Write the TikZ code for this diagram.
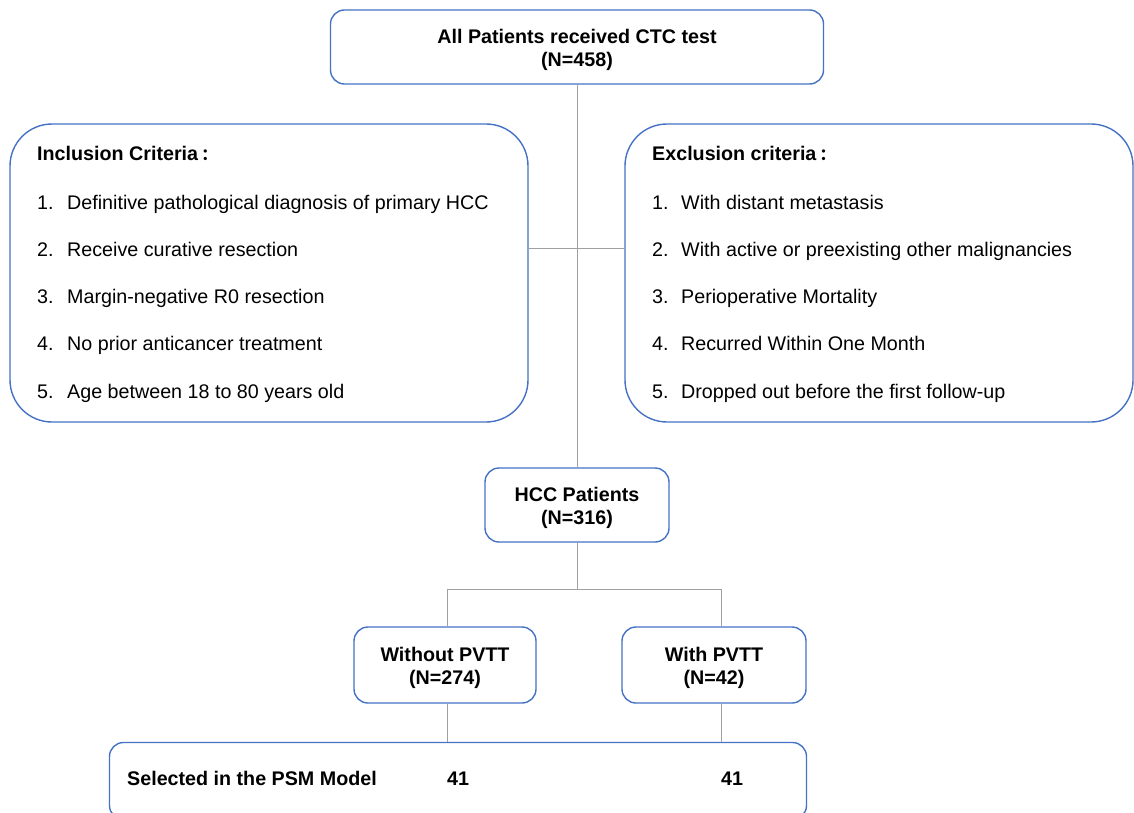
\documentclass[tikz,border=0pt]{standalone}
\usepackage{fontspec}
\setmainfont{Liberation Sans}
\newfontfamily\cjk{Noto Sans CJK SC}
\usetikzlibrary{positioning}
\definecolor{boxblue}{RGB}{68,114,196}
\definecolor{linegray}{RGB}{160,160,160}

\begin{document}
\begin{tikzpicture}[x=1pt,y=-1pt,
    box/.style={draw=boxblue,line width=1.4pt,rounded corners=14pt,inner sep=0pt},
    boxtext/.style={align=center,inner sep=0pt,yshift=-3pt,font=\bfseries\fontsize{19.7}{23}\selectfont},
    crit/.style={box,rounded corners=42pt,minimum height=298pt},
    item/.style={anchor=base west,inner sep=0pt,font=\fontsize{19.7}{23}\selectfont},
    head/.style={item,font=\bfseries\fontsize{19.7}{23}\selectfont},
    link/.style={draw=linegray,line width=1pt}]
    \useasboundingbox (0, 0) rectangle (1134, 813);
    \node (all) at (577, 47) [box,minimum width=493pt,minimum height=74pt,label={[boxtext]center:{All Patients received CTC test\\(N=458)}}] {};
    \node (incl) at (269, 273) [crit,minimum width=518pt] {};
    \node (excl) at (879, 273) [crit,minimum width=508pt] {};
    \node (hcc) at (577, 505) [box,minimum width=184pt,minimum height=74pt,label={[boxtext]center:{HCC Patients\\(N=316)}}] {};
    \node (wo) at (445, 665) [box,minimum width=182pt,minimum height=76pt,label={[boxtext]center:{Without PVTT\\(N=274)}}] {};
    \node (wi) at (714, 665) [box,minimum width=184pt,minimum height=76pt,label={[boxtext]center:{With PVTT\\(N=42)}}] {};
    \node (psm) at (458, 781) [box,minimum width=697pt,minimum height=77pt] {};

    \node (inclhead) at (37, 161) [head] {Inclusion Criteria\,{\cjk\fontsize{16}{16}\selectfont ：}};
    \node (incla) at (37, 209) [item] {\makebox[30pt][l]{1.}Definitive pathological diagnosis of primary HCC};
    \node (inclb) at (37, 256) [item] {\makebox[30pt][l]{2.}Receive curative resection};
    \node (inclc) at (37, 303) [item] {\makebox[30pt][l]{3.}Margin-negative R0 resection};
    \node (incld) at (37, 350) [item] {\makebox[30pt][l]{4.}No prior anticancer treatment};
    \node (incle) at (37, 398) [item] {\makebox[30pt][l]{5.}Age between 18 to 80 years old};

    \node (exclhead) at (652, 161) [head] {Exclusion criteria\,{\cjk\fontsize{16}{16}\selectfont ：}};
    \node (excla) at (652, 209) [item] {\makebox[29pt][l]{1.}With distant metastasis};
    \node (exclb) at (652, 256) [item] {\makebox[29pt][l]{2.}With active or preexisting other malignancies};
    \node (exclc) at (652, 303) [item] {\makebox[29pt][l]{3.}Perioperative Mortality};
    \node (excld) at (652, 350) [item] {\makebox[29pt][l]{4.}Recurred Within One Month};
    \node (exple) at (652, 398) [item] {\makebox[29pt][l]{5.}Dropped out before the first follow-up};

    \node (sel) at (127, 785) [head] {Selected in the PSM Model};
    \node (nwo) at (447, 785) [head] {41};
    \node (nwi) at (721, 785) [head] {41};

    \coordinate (mid) at (577, 248);
    \coordinate (split) at (577, 589);
    \coordinate (lft) at (447, 589);
    \coordinate (rgt) at (721, 589);
    \draw [link] (all) to (hcc);
    \draw [link] (incl.east |- mid) to (excl.west |- mid);
    \draw [link] (hcc) to (split);
    \draw [link] (lft) to (rgt);
    \draw [link] (lft) to (lft |- wo.north);
    \draw [link] (rgt) to (rgt |- wi.north);
    \draw [link] (lft |- wo.south) to (lft |- psm.north);
    \draw [link] (rgt |- wi.south) to (rgt |- psm.north);
\end{tikzpicture}
\end{document}
